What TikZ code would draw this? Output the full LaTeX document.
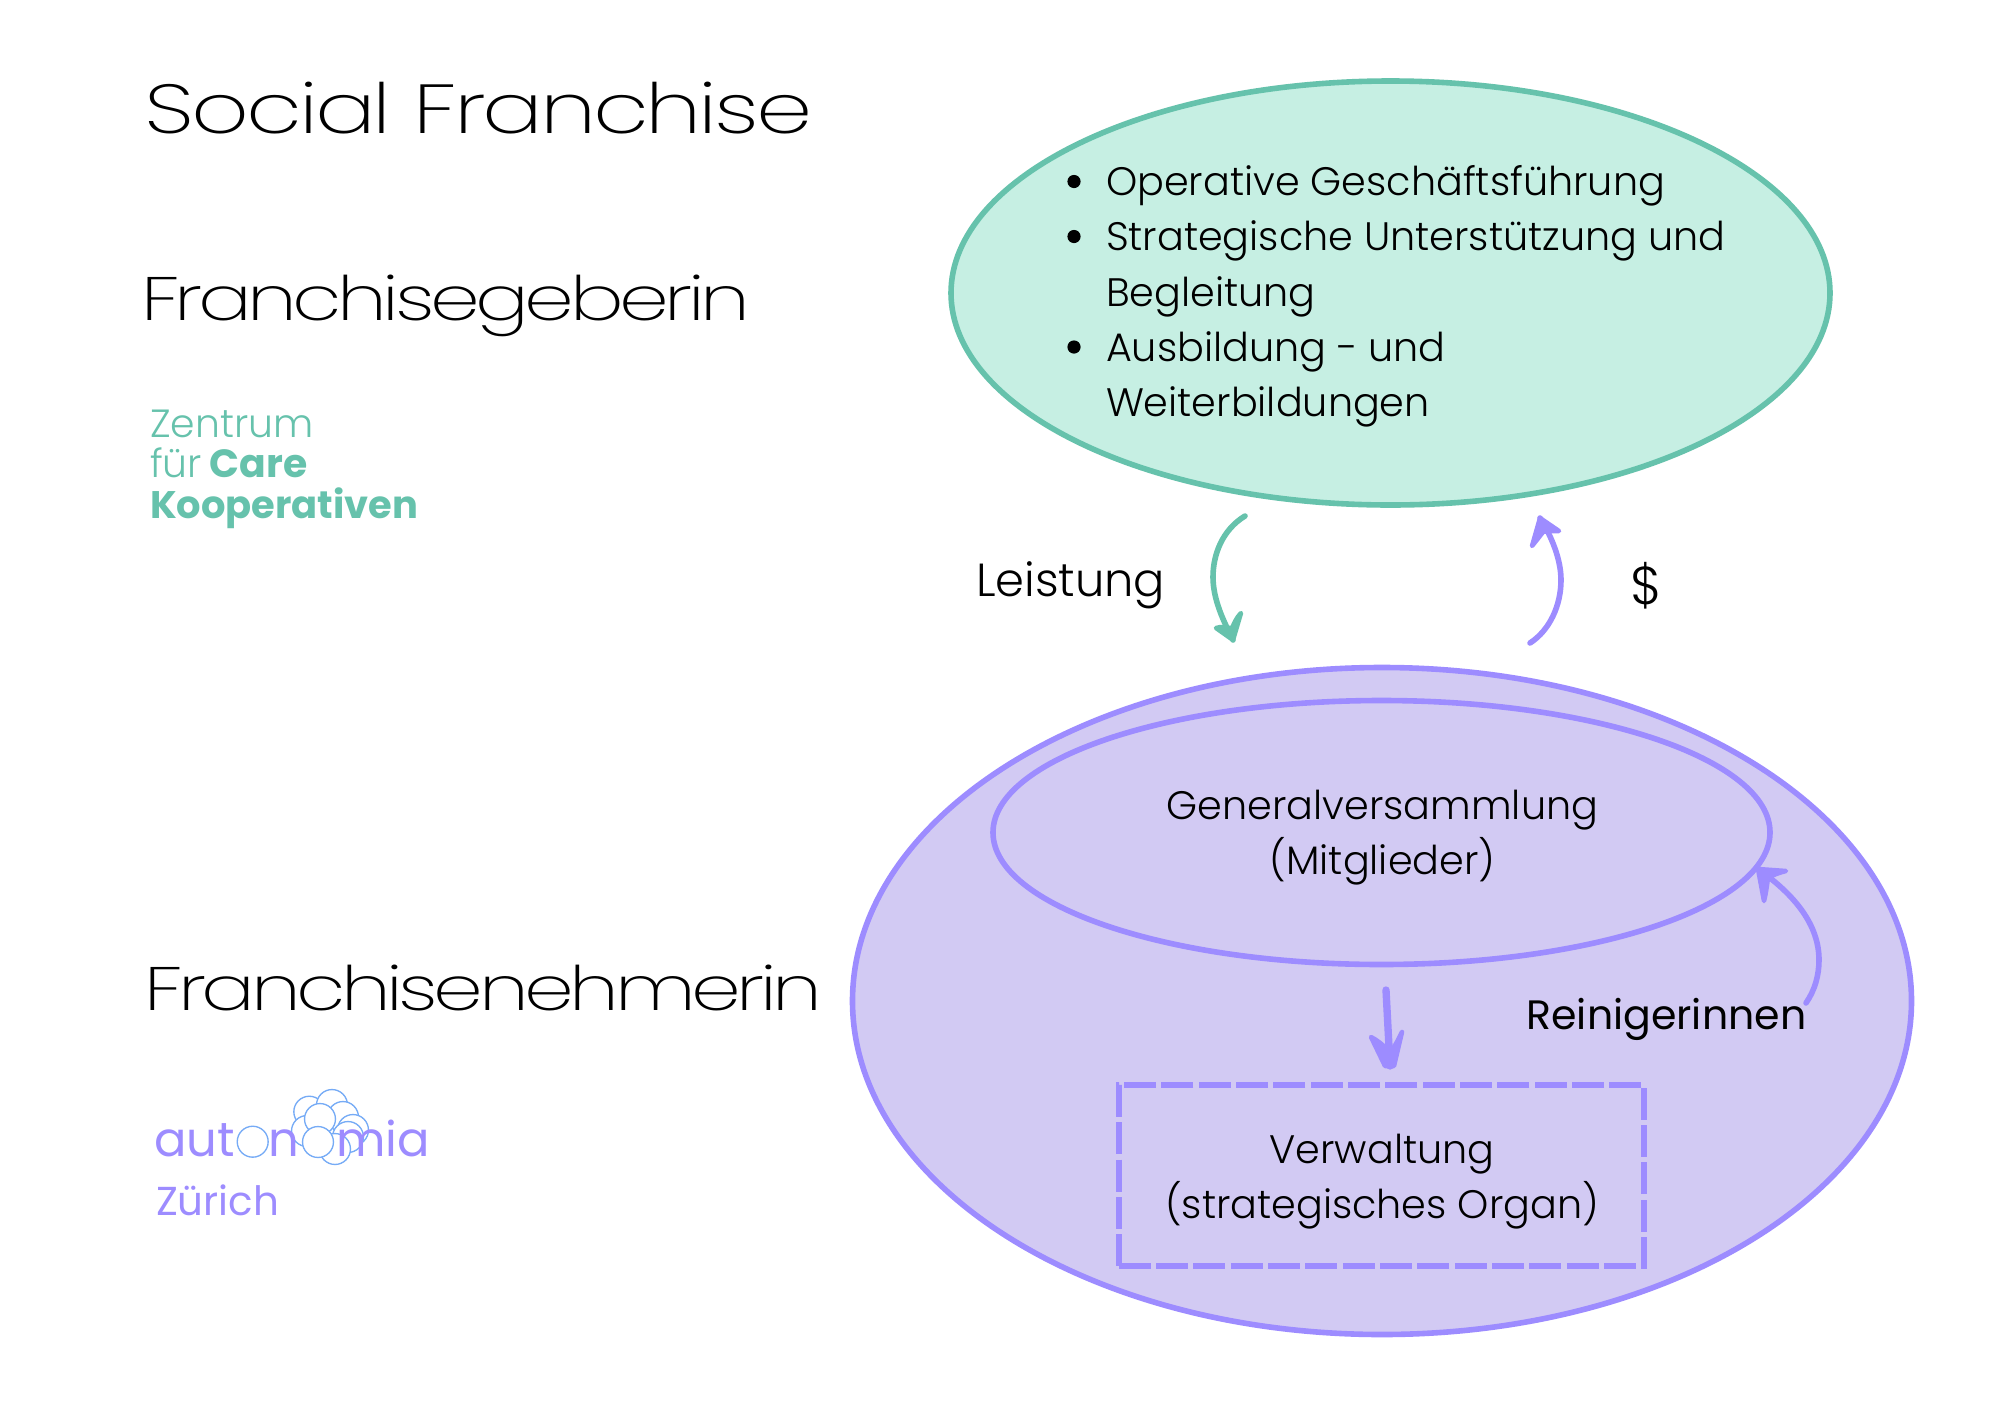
\documentclass[tikz,border=0pt]{standalone}
\usepackage{fontspec}
\setmainfont{Poppins}
\newfontfamily\plight[UprightFont=* Light,BoldFont=* Bold]{Poppins}
\newfontfamily\ptitle[UprightFont=* ExtraLight,FakeStretch=1.3,LetterSpace=-4.5]{Poppins}
\newfontfamily\psub[UprightFont=* ExtraLight,FakeStretch=1.3,LetterSpace=-7.3]{Poppins}
\usetikzlibrary{shapes.geometric}
\definecolor{grn}{HTML}{66C2AC}
\definecolor{grnfill}{HTML}{C6EFE3}
\definecolor{pur}{HTML}{9D8CFF}
\definecolor{purfill}{HTML}{D2CAF3}
\definecolor{blu}{HTML}{76ABF6}
\newcommand{\bodyfont}{\fontsize{29.8}{36}\selectfont}
\tikzset{
  x=0.75pt,y=-0.75pt,
  txt/.style={inner sep=0,outer sep=0,anchor=base west,text=black},
  ctxt/.style={inner sep=0,outer sep=0,anchor=base,text=black,font=\plight\bodyfont},
  btxt/.style={txt,font=\plight\bodyfont},
  ttl/.style={txt,font=\ptitle\fontsize{52}{60}\selectfont},
  subttl/.style={txt,font=\psub\fontsize{46}{54}\selectfont},
  logog/.style={txt,text=grn,font=\plight\fontsize{29.5}{32}\selectfont},
  oval/.style={ellipse,draw,inner sep=0,outer sep=0,line width=4.2pt},
  curve/.style={line width=4.2pt,line cap=round,line join=round},
  headfill/.style={line width=3.4pt,line join=round},
  bub/.style={draw=blu,line width=1pt,fill=white},
}
\begin{document}
\begin{tikzpicture}
\useasboundingbox (0,0) rectangle (2000,1414);
\fill[white] (0,0) rectangle (2000,1414);
% titles
\node[ttl] (title) at (144.5,133) {Social Franchise};
\node[subttl] (geber) at (141,320) {Franchisegeberin};
\node[subttl] (nehmer) at (144.5,1010) {Franchisenehmerin};
% logo Zentrum
\node[logog] (z1) at (150,437) {Zentrum};
\node[logog] (z2) at (150,477.5) {für\,\kern1pt\textbf{Care}};
\node[logog,font=\plight\fontsize{28.8}{32}\selectfont] (z3) at (150,518.5) {\textbf{Kooperativen}};
% logo autonomia: circles behind the letters, two in front of them
\foreach \cx/\cy in {309.3/1111.7,332/1105,343/1117,307/1131,353/1130,348/1137,335/1149}{
  \draw[bub] (\cx,\cy) circle[radius=11.6pt];
}
\node[txt,text=pur,font=\fontsize{36}{44}\selectfont] (auto) at (154,1156) {aut\phantom{o}\kern2.2pt n\phantom{o}\kern4.9pt mia};
\node[txt,text=pur,font=\fontsize{30.3}{34}\selectfont] (zh) at (156,1215) {Zürich};
\draw[bub,fill=none] (252.7,1141.7) circle[radius=11.6pt];
\draw[bub] (320,1119) circle[radius=11.6pt];
\draw[bub] (318,1142) circle[radius=11.6pt];
% top ellipse
\node[oval,draw=grn,fill=grnfill,minimum width=879*0.75pt,minimum height=424*0.75pt] (top) at (1390.5,293) {};
\foreach \y in {195.5,250.5,361}{
  \fill[black] (1074,\y-14) circle[radius=6.6*0.75pt];
}
\node[btxt] (t1) at (1106,195.5) {Operative Geschäftsführung};
\node[btxt] (t2) at (1106,250.5) {Strategische Unterstützung und};
\node[btxt] (t3) at (1106,306) {Begleitung};
\node[btxt] (t4) at (1106,361) {Ausbildung - und};
\node[btxt] (t5) at (1106,416.5) {Weiterbildungen};
% bottom ellipses
\node[oval,draw=pur,fill=purfill,minimum width=1059*0.75pt,minimum height=667*0.75pt] (outer) at (1382,1001) {};
\node[oval,draw=pur,fill=none,minimum width=777*0.75pt,minimum height=264*0.75pt] (inner) at (1381.5,832.5) {};
\node[ctxt] (g1) at (1382.5,819) {Generalversammlung};
\node[ctxt] (g2) at (1382.5,874.5) {(Mitglieder)};
\node[draw=pur,line width=4.2pt,dash pattern=on 24pt off 4pt,inner sep=0,outer sep=0,minimum width=525.5*0.75pt,minimum height=181*0.75pt] (verw) at (1381.5,1175.5) {};
\node[ctxt] (v1) at (1382,1163) {Verwaltung};
\node[ctxt] (v2) at (1382,1218) {(strategisches Organ)};
% labels
\node[txt,font=\plight\fontsize{34.8}{38}\selectfont] (leist) at (976,596) {Leistung};
\node[txt,font=\plight\fontsize{40}{44}\selectfont] (dollar) at (1630,604) {\$};
\node[txt,font=\fontsize{30.8}{36}\selectfont] (rein) at (1526.5,1029) {Reinigerinnen};
% connector end points
\coordinate (a1s) at (1245,516); \coordinate (a1m) at (1213,577); \coordinate (a1e) at (1233,640);
\coordinate (a2s) at (1530,643); \coordinate (a2m) at (1561,580); \coordinate (a2e) at (1540,518);
\coordinate (a3s) at (1806,1003); \coordinate (a3m) at (1819,960); \coordinate (a3e) at (1758,869);
\coordinate (a4s) at (1386,990); \coordinate (a4e) at (1390,1066);
% green arrow
\draw[curve,draw=grn] (a1s) .. controls (1222,530) and (1213,555) .. (a1m) .. controls (1213,600) and (1224,622) .. (a1e);
\filldraw[headfill,draw=grn,fill=grn] (1216,628) -- (a1e) -- (1241,613) .. controls (1236,618) and (1234,624) .. (1232,628) .. controls (1227,628) and (1221,626) .. cycle;
% purple up arrow
\draw[curve,draw=pur] (a2s) .. controls (1550,630) and (1561,605) .. (a2m) .. controls (1561,560) and (1552,537) .. (a2e);
\filldraw[headfill,draw=pur,fill=pur] (1532,546) -- (a2e) -- (1559,531) .. controls (1552,531) and (1546,531) .. (1543,532) .. controls (1540,536) and (1536,541) .. cycle;
% Reinigerinnen arrow
\draw[curve,draw=pur] (a3s) .. controls (1815,990) and (1819,975) .. (a3m) .. controls (1819,925) and (1795,895) .. (a3e);
\filldraw[headfill,draw=pur,fill=pur] (1764,901) -- (a3e) -- (1786,871) .. controls (1778,873) and (1773,875) .. (1768,878) .. controls (1767,885) and (1766,893) .. cycle;
% down arrow
\draw[curve,draw=pur,line width=5.5pt] (a4s) -- (a4e);
\filldraw[headfill,draw=pur,fill=pur] (1371,1037) -- (1385,1066) -- (a4e) -- (1394,1066) -- (1402,1032) .. controls (1398,1040) and (1395,1046) .. (1392,1050) -- (1388,1050) .. controls (1383,1045) and (1377,1040) .. cycle;
\end{tikzpicture}
\end{document}
